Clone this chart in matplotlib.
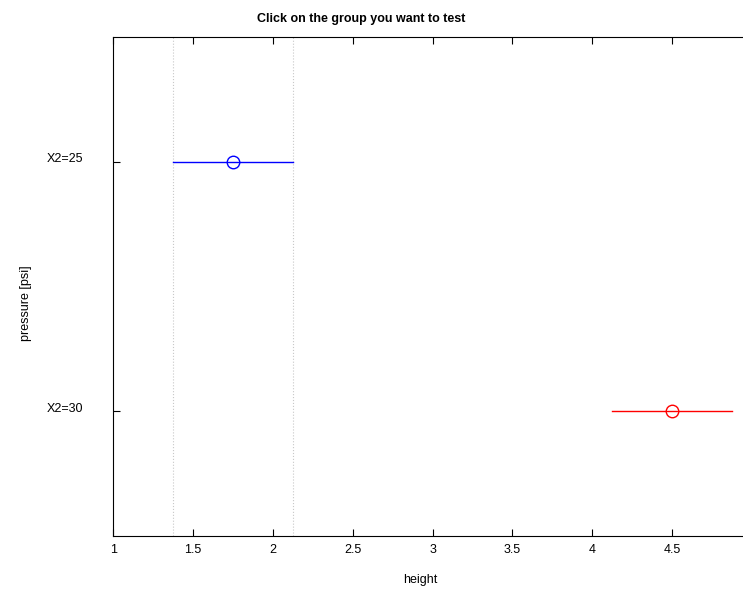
import matplotlib
matplotlib.use('Agg')
import matplotlib.pyplot as plt
from matplotlib.transforms import ScaledTranslation

plt.rcParams['font.family'] = ['Liberation Sans', 'DejaVu Sans']

# group means and comparison interval half-widths
groups = ['X2=25', 'X2=30']
means = [1.75, 4.5]
half_widths = [0.375, 0.375]
colors = ['blue', 'red']

fig = plt.figure(figsize=(7.43, 5.89), dpi=100)
ax = fig.add_axes([0.1525, 0.09, 0.8596, 0.8472])

pos = list(range(1, len(groups) + 1))

# dotted guides at the selected group's interval
sel = 0
for xv in (means[sel] - half_widths[sel], means[sel] + half_widths[sel]):
    ax.axvline(xv, color='#c8c8c8', linestyle=':', linewidth=0.8, zorder=1)

for y, m, hw, c in zip(pos, means, half_widths, colors):
    ax.plot([m - hw, m + hw], [y, y], color=c, linewidth=1, zorder=2)
    ax.plot(m, y, 'o', markersize=9, markerfacecolor='none',
            markeredgecolor=c, markeredgewidth=1, zorder=3)

ax.set_xlim(1, 5)
ax.set_ylim(len(groups) + 0.5, 0.5)
ax.set_xticks([1, 1.5, 2, 2.5, 3, 3.5, 4, 4.5])
ax.set_xticklabels(['1', '1.5', '2', '2.5', '3', '3.5', '4', '4.5'])
ax.set_yticks(pos)
ax.set_yticklabels(groups)

ax.tick_params(axis='x', direction='in', length=5, top=True, labelsize=9, pad=6)
ax.tick_params(axis='y', direction='in', length=5, labelsize=9, pad=22)
for s in ax.spines.values():
    s.set_linewidth(0.8)

# group names sit a little above their tick
shift = ScaledTranslation(0, 4 / 100, fig.dpi_scale_trans)
for lbl in ax.get_yticklabels():
    lbl.set_transform(lbl.get_transform() + shift)

ax.set_title('Click on the group you want to test', fontsize=9,
             fontweight='bold', pad=11, x=0.388)
ax.set_xlabel('height', fontsize=9, labelpad=13)
ax.set_ylabel('pressure [psi]', fontsize=9, labelpad=10)
ax.xaxis.label.set_x(0.48)
ax.yaxis.label.set_y(0.467)

fig.savefig('out.png', dpi=100)
